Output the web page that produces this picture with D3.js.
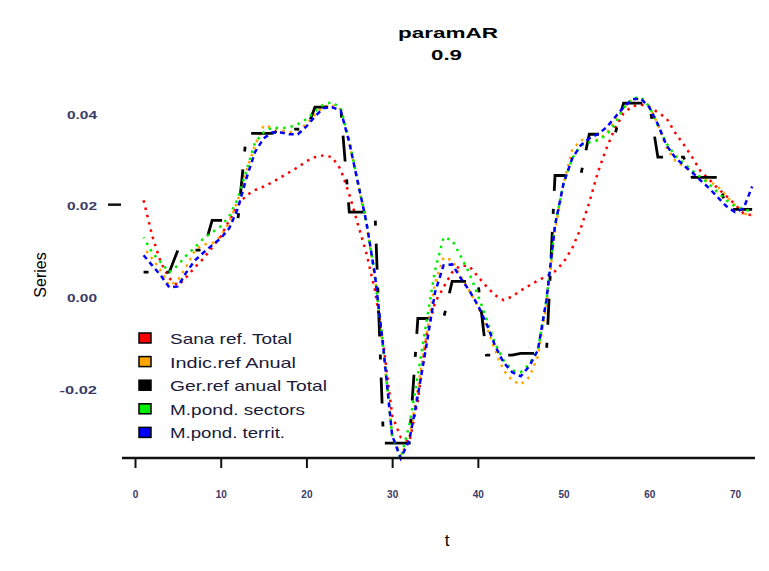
<!DOCTYPE html>
<html lang="en">
<head>
<meta charset="utf-8">
<title>paramAR 0.9</title>
<script src="https://d3js.org/d3.v7.min.js"></script>
<style>
  body { margin: 0; background: #fff; }
  text { font-family: "Liberation Sans", Arial, sans-serif; }
  .tick line { stroke: #111; }
</style>
</head>
<body>
<div id="chart"></div>
<script>
const width = 769;
const height = 571;

// months 1..72
const months = d3.range(1, 73);

const xTicks = [0, 10, 20, 30, 40, 50, 60, 70];
const yTicks = [-0.02, 0, 0.02, 0.04];
const yTickLabels = ["-0.02", "0.00", "0.02", "0.04"];

const seriesNames = ["Sana ref. Total", "Indic.ref Anual", "Ger.ref anual Total", "M.pond. sectors", "M.pond. territ."];
const seriesColors = ["#ff0000", "#ffa500", "#000000", "#00ee00", "#0000ff"];
// widths of the (stretched) legend labels in the picture
const legendWidths = [122, 126, 157, 135, 115];

const sanaRef = [0.0214, 0.0137, 0.0079, 0.0044, 0.0028, 0.0046, 0.0068, 0.0087, 0.0111, 0.0135,
  0.0170, 0.0203, 0.0225, 0.0236, 0.0244, 0.0253, 0.0264, 0.0275, 0.0286, 0.0299,
  0.0308, 0.0312, 0.0308, 0.0281, 0.0227, 0.0162, 0.0098, 0.0017, -0.0103, -0.0255,
  -0.0303, -0.0314, -0.0223, -0.0081, -0.0009, 0.0024, 0.0057, 0.0072, 0.0070, 0.0048,
  0.0026, 0.0007, -0.0004, 0.0004, 0.0017, 0.0028, 0.0039, 0.0048, 0.0059, 0.0079,
  0.0109, 0.0153, 0.0209, 0.0275, 0.0327, 0.0371, 0.0404, 0.0419, 0.0423, 0.0417,
  0.0406, 0.0393, 0.0362, 0.0336, 0.0308, 0.0277, 0.0259, 0.0240, 0.0223, 0.0205,
  0.0185, 0.0181];

const indicRef = [0.0111, 0.0087, 0.0061, 0.0028, 0.0039, 0.0070, 0.0105, 0.0118, 0.0120, 0.0135,
  0.0166, 0.0214, 0.0279, 0.0334, 0.0377, 0.0373, 0.0367, 0.0362, 0.0367, 0.0380,
  0.0401, 0.0419, 0.0421, 0.0412, 0.0340, 0.0253, 0.0161, 0.0044, -0.0118, -0.0299,
  -0.0343, -0.0305, -0.0196, -0.0081, 0.0033, 0.0089, 0.0083, 0.0048, 0.0017, -0.0017,
  -0.0061, -0.0113, -0.0157, -0.0179, -0.0188, -0.0172, -0.0127, -0.0015, 0.0148, 0.0251,
  0.0323, 0.0345, 0.0349, 0.0345, 0.0360, 0.0388, 0.0415, 0.0434, 0.0436, 0.0419,
  0.0380, 0.0329, 0.0301, 0.0288, 0.0275, 0.0262, 0.0255, 0.0244, 0.0223, 0.0203,
  0.0185, 0.0181];

const gerRef = [0.0057, 0.0057, 0.0057, 0.0057, 0.0105, 0.0105, 0.0105, 0.0105, 0.0170, 0.0170,
  0.0170, 0.0170, 0.0360, 0.0360, 0.0360, 0.0360, 0.0369, 0.0369, 0.0369, 0.0369,
  0.0417, 0.0417, 0.0417, 0.0417, 0.0188, 0.0188, 0.0188, 0.0188, -0.0316, -0.0316,
  -0.0316, -0.0316, -0.0044, -0.0044, -0.0044, -0.0044, 0.0037, 0.0037, 0.0037, 0.0037,
  -0.0124, -0.0124, -0.0124, -0.0124, -0.0120, -0.0120, -0.0120, -0.0120, 0.0268, 0.0268,
  0.0268, 0.0268, 0.0358, 0.0358, 0.0358, 0.0358, 0.0426, 0.0426, 0.0426, 0.0426,
  0.0308, 0.0308, 0.0308, 0.0308, 0.0264, 0.0264, 0.0264, 0.0264, 0.0194, 0.0194,
  0.0194, 0.0194];

const pondSectors = [0.0133, 0.0100, 0.0079, 0.0057, 0.0072, 0.0094, 0.0111, 0.0131, 0.0144, 0.0157,
  0.0179, 0.0218, 0.0279, 0.0340, 0.0362, 0.0373, 0.0371, 0.0373, 0.0380, 0.0391,
  0.0408, 0.0423, 0.0428, 0.0415, 0.0345, 0.0253, 0.0166, 0.0050, -0.0113, -0.0299,
  -0.0349, -0.0277, -0.0168, -0.0052, 0.0061, 0.0133, 0.0127, 0.0092, 0.0055, 0.0007,
  -0.0044, -0.0098, -0.0135, -0.0157, -0.0161, -0.0144, -0.0113, -0.0004, 0.0159, 0.0251,
  0.0305, 0.0334, 0.0340, 0.0345, 0.0356, 0.0380, 0.0415, 0.0436, 0.0439, 0.0419,
  0.0377, 0.0338, 0.0312, 0.0295, 0.0279, 0.0264, 0.0249, 0.0231, 0.0214, 0.0201,
  0.0194, 0.0190];

const pondTerrit = [0.0094, 0.0072, 0.0050, 0.0024, 0.0026, 0.0057, 0.0083, 0.0100, 0.0116, 0.0131,
  0.0153, 0.0196, 0.0262, 0.0319, 0.0349, 0.0362, 0.0362, 0.0358, 0.0358, 0.0375,
  0.0397, 0.0415, 0.0417, 0.0410, 0.0340, 0.0253, 0.0166, 0.0050, -0.0113, -0.0299,
  -0.0349, -0.0310, -0.0212, -0.0103, 0.0013, 0.0072, 0.0074, 0.0044, 0.0017, -0.0015,
  -0.0055, -0.0103, -0.0140, -0.0161, -0.0170, -0.0148, -0.0113, -0.0004, 0.0159, 0.0251,
  0.0305, 0.0334, 0.0349, 0.0358, 0.0373, 0.0395, 0.0417, 0.0434, 0.0436, 0.0417,
  0.0380, 0.0334, 0.0308, 0.0290, 0.0275, 0.0257, 0.0240, 0.0220, 0.0201, 0.0188,
  0.0196, 0.0244];

const allSeries = [sanaRef, indicRef, gerRef, pondSectors, pondTerrit];
const dashes = ["2.5,5", "2.5,5", "5,18,26,18", "2.5,5", "5,4"];
const dashOffsets = [0, 3, 0, 1.5, 0];

const svg = d3.select("#chart")
  .append("svg")
  .attr("width", width)
  .attr("height", height);

const x = d3.scaleLinear().domain([0, 70]).range([135, 735]);
const y = d3.scaleLinear().domain([-0.02, 0.04]).range([390, 115]);

// title (the picture is stretched sideways, so the text is too)
svg.append("text")
  .attr("x", 398).attr("y", 38)
  .attr("textLength", 100).attr("lengthAdjust", "spacingAndGlyphs")
  .style("font-size", "15px").style("font-weight", "bold")
  .text("paramAR");
svg.append("text")
  .attr("x", 431).attr("y", 60)
  .attr("textLength", 31).attr("lengthAdjust", "spacingAndGlyphs")
  .style("font-size", "15px").style("font-weight", "bold")
  .text("0.9");

// lines
const line = d3.line()
  .x((d, i) => x(months[i]))
  .y(d => y(d));

svg.append("g")
  .selectAll("path")
  .data(allSeries)
  .enter()
  .append("path")
    .attr("d", d => line(d))
    .attr("fill", "none")
    .attr("stroke", (d, i) => seriesColors[i])
    .attr("stroke-width", (d, i) => i == 2 ? 2.8 : 2.5)
    .attr("stroke-dasharray", (d, i) => dashes[i])
    .attr("stroke-dashoffset", (d, i) => dashOffsets[i]);

// x axis
const xAxis = d3.axisBottom(x)
  .tickValues(xTicks)
  .tickFormat(d3.format("d"))
  .tickSize(10)
  .tickPadding(23);

const gx = svg.append("g")
  .attr("transform", "translate(0,458)")
  .call(xAxis);
gx.select(".domain").remove();
gx.selectAll(".tick line")
  .attr("stroke-width", 2)
  .attr("display", d => d > 40 ? "none" : null);
gx.selectAll(".tick text")
  .style("font-size", "10px")
  .style("font-weight", "bold")
  .style("font-family", "'Liberation Sans', Arial, sans-serif")
  .attr("fill", "#3a3a66");
gx.append("line")
  .attr("x1", 122).attr("x2", 755)
  .attr("y1", 0).attr("y2", 0)
  .attr("stroke", "#111")
  .attr("stroke-width", 2.5);

svg.append("text")
  .attr("x", 447).attr("y", 546)
  .attr("text-anchor", "middle")
  .style("font-size", "17px")
  .text("t");

// y axis
const yAxis = d3.axisLeft(y)
  .tickValues(yTicks)
  .tickFormat((d, i) => yTickLabels[i])
  .tickSize(0)
  .tickPadding(3);

const gy = svg.append("g")
  .attr("transform", "translate(100,0)")
  .call(yAxis);
gy.select(".domain").remove();
gy.selectAll(".tick text")
  .attr("textLength", (d, i) => yTickLabels[i].length * 7.5)
  .attr("lengthAdjust", "spacingAndGlyphs")
  .style("font-size", "10px")
  .style("font-weight", "bold")
  .style("font-family", "'Liberation Sans', Arial, sans-serif")
  .attr("fill", "#3a3a66");

svg.append("line")
  .attr("x1", 108).attr("x2", 121)
  .attr("y1", y(0.02) - 2).attr("y2", y(0.02) - 2)
  .attr("stroke", "#111")
  .attr("stroke-width", 2.5);

svg.append("text")
  .attr("transform", "translate(46,275) rotate(-90)")
  .attr("text-anchor", "middle")
  .style("font-size", "16px")
  .text("Series");

// legend
const legend = svg.append("g")
  .attr("transform", "translate(139,333)");

const rows = legend.selectAll("g")
  .data(seriesNames)
  .enter()
  .append("g")
    .attr("transform", (d, i) => "translate(0," + (i * 23.6) + ")");

rows.append("rect")
  .attr("width", 12).attr("height", 10)
  .attr("fill", (d, i) => seriesColors[i])
  .attr("stroke", "#000")
  .attr("stroke-width", 1.5);

rows.append("text")
  .attr("x", 31).attr("y", 11)
  .attr("textLength", (d, i) => legendWidths[i])
  .attr("lengthAdjust", "spacingAndGlyphs")
  .style("font-size", "15px")
  .attr("fill", "#1a1a3a")
  .text(d => d);
</script>
</body>
</html>
